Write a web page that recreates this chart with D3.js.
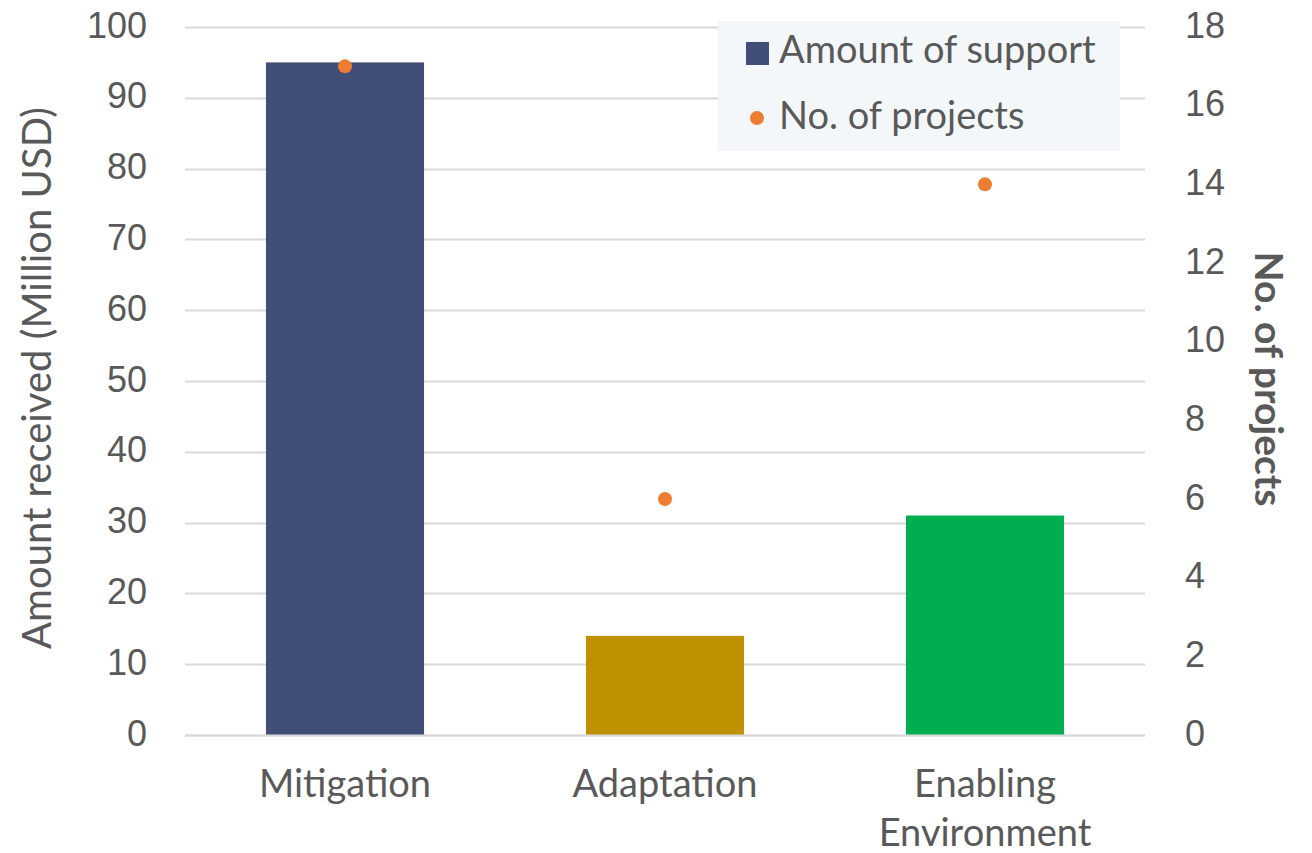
<!DOCTYPE html>
<html>
<head>
<meta charset="utf-8">
<script src="https://cdn.jsdelivr.net/npm/d3@7"></script>
<style>
  body { margin: 0; background: #fff; }
  svg { display: block; font-family: Lato, "Open Sans", sans-serif; }
</style>
</head>
<body>
<svg id="chart" width="1312" height="853"></svg>
<script>
// --- Data ---
const categories = ['Mitigation', 'Adaptation', 'Enabling Environment'];
const categoryLines = [['Mitigation'], ['Adaptation'], ['Enabling', 'Environment']];
const amounts = [95, 14, 31];
const projects = [17, 6, 14];
const barColors = ['#404e78', '#bf9000', '#00ae4f'];
const leftTicks = [0, 10, 20, 30, 40, 50, 60, 70, 80, 90, 100];
const rightTicks = [0, 2, 4, 6, 8, 10, 12, 14, 16, 18];

const textColor = '#595959';
const svg = d3.select('#chart');

// plot area
const plotLeft = 185, plotRight = 1145, plotTop = 27, plotBottom = 735;

const x = d3.scaleBand().domain(categories).range([plotLeft, plotRight]).paddingInner(0.506).paddingOuter(0.253);
const yL = d3.scaleLinear().domain([0, 100]).range([plotBottom, plotTop]);
const yR = d3.scaleLinear().domain([0, 18]).range([plotBottom, plotTop]);

// gridlines
svg.append('g').selectAll('line').data(leftTicks).join('line')
  .attr('x1', plotLeft).attr('x2', plotRight)
  .attr('y1', d => Math.round(yL(d)) + 0.5).attr('y2', d => Math.round(yL(d)) + 0.5)
  .attr('stroke', '#d9d9d9').attr('stroke-width', 2);

// left axis
const axisL = svg.append('g').attr('transform', `translate(${plotLeft},0)`)
  .call(d3.axisLeft(yL).tickValues(leftTicks).tickSize(0).tickPadding(38));
axisL.select('.domain').remove();
axisL.selectAll('text').attr('fill', textColor).attr('dy', '0.28em').style('font-size', '36px');

// right axis
const axisR = svg.append('g').attr('transform', `translate(${plotRight},0)`)
  .call(d3.axisRight(yR).tickValues(rightTicks).tickSize(0).tickPadding(40));
axisR.select('.domain').remove();
axisR.selectAll('text').attr('fill', textColor).attr('dy', '0.28em').style('font-size', '36px');

// bars
svg.append('g').selectAll('rect').data(categories).join('rect')
  .attr('x', d => x(d)).attr('width', x.bandwidth())
  .attr('y', (d, i) => yL(amounts[i]))
  .attr('height', (d, i) => yL(0) - yL(amounts[i]))
  .attr('fill', (d, i) => barColors[i]);

// x-axis baseline
svg.append('line').attr('x1', plotLeft).attr('x2', plotRight)
  .attr('y1', plotBottom + 0.5).attr('y2', plotBottom + 0.5)
  .attr('stroke', '#d9d9d9').attr('stroke-width', 2);

// points
svg.append('g').selectAll('circle').data(categories).join('circle')
  .attr('cx', d => x(d) + x.bandwidth() / 2)
  .attr('cy', (d, i) => yR(projects[i]))
  .attr('r', 7).attr('fill', '#ed7d31');

// category labels
const catLabels = svg.append('g').selectAll('text').data(categories).join('text')
  .attr('x', d => x(d) + x.bandwidth() / 2)
  .attr('y', 797)
  .attr('text-anchor', 'middle')
  .attr('fill', textColor).style('font-size', '38px');
catLabels.each(function(d, i) {
  d3.select(this).selectAll('tspan').data(categoryLines[i]).join('tspan')
    .attr('x', x(d) + x.bandwidth() / 2)
    .attr('dy', (t, j) => j === 0 ? 0 : 49)
    .text(t => t);
});

// axis titles
svg.append('text')
  .attr('transform', `translate(51,378) rotate(-90)`)
  .attr('text-anchor', 'middle').attr('fill', textColor).style('font-size', '40px')
  .text('Amount received (Million USD)');

svg.append('text')
  .attr('transform', `translate(1255,379) rotate(90)`)
  .attr('text-anchor', 'middle').attr('fill', textColor)
  .style('font-size', '39px').style('font-weight', 'bold')
  .text('No. of projects');

// legend
const legend = svg.append('g');
legend.append('rect').attr('x', 718).attr('y', 21).attr('width', 402).attr('height', 130).attr('fill', '#f3f7fa');
legend.append('rect').attr('x', 746).attr('y', 42).attr('width', 23).attr('height', 23).attr('fill', barColors[0]);
legend.append('text').attr('x', 779).attr('y', 63).attr('fill', textColor).style('font-size', '38px').text('Amount of support');
legend.append('circle').attr('cx', 757).attr('cy', 118).attr('r', 7).attr('fill', '#ed7d31');
legend.append('text').attr('x', 779).attr('y', 129).attr('fill', textColor).style('font-size', '38px').text('No. of projects');
</script>
</body>
</html>
